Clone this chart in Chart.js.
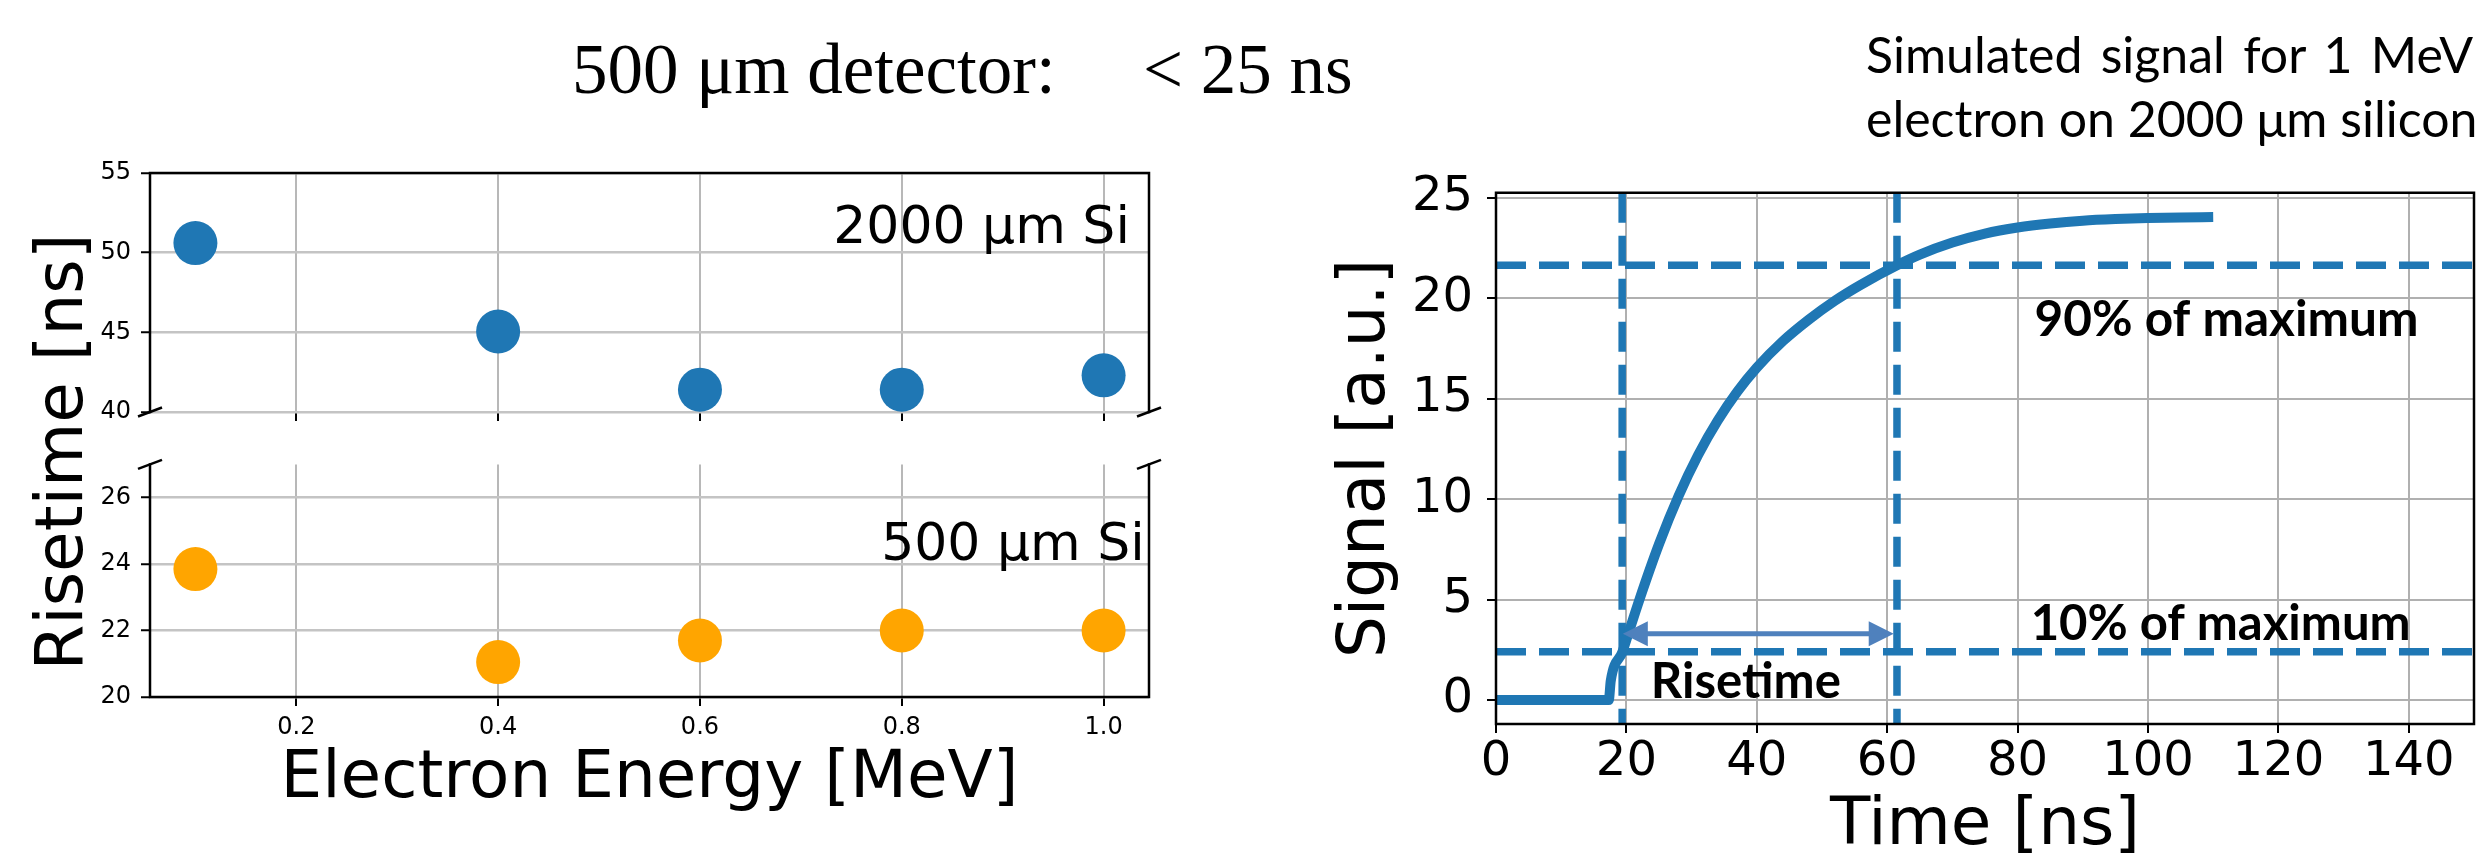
<!DOCTYPE html>
<html>
<head>
<meta charset="utf-8">
<script src="https://cdn.jsdelivr.net/npm/chart.js@4.4.1/dist/chart.umd.min.js"></script>
<style>
  html, body { margin: 0; padding: 0; background: #fff; }
  body { width: 2482px; height: 855px; position: relative; overflow: hidden; }
  canvas { position: absolute; }
  .txt { position: absolute; white-space: nowrap; color: #000; }
</style>
</head>
<body>
<div class="txt" style="left:572px; top:29px; font:71px/80px 'Liberation Serif';">500 μm detector:</div>
<div class="txt" style="left:1143px; top:29px; font:71px/80px 'Liberation Serif';">&lt; 25 ns</div>
<div class="txt" style="left:1866px; top:21.6px; width:607px; white-space:normal; font:50px/64px Lato; text-align:justify; text-align-last:justify;">Simulated signal for 1 MeV</div>
<div class="txt" style="left:1866px; top:85.6px; font:50px/64px Lato;">electron on 2000 μm silicon</div>
<div class="txt" style="left:-239.8px; top:419px; width:600px; height:66px; font:66px/66px 'DejaVu Sans'; text-align:center; transform:rotate(-90deg);">Risetime [ns]</div>

<canvas id="riseTop" width="1180" height="300" style="left:0; top:140px;"></canvas>
<canvas id="riseBottom" width="1180" height="415" style="left:0; top:440px;"></canvas>
<canvas id="signal" width="1182" height="705" style="left:1300px; top:150px;"></canvas>

<script>
// left plot: risetime vs electron energy
const energy = [0.1, 0.4, 0.6, 0.8, 1.0];
const rise2000 = [50.6, 45.05, 41.4, 41.4, 42.3];
const rise500 = [23.85, 21.05, 21.7, 22.0, 22.0];
const energyTicks = [0.2, 0.4, 0.6, 0.8, 1.0];
const riseTopTicks = [40, 45, 50, 55];
const riseBottomTicks = [20, 22, 24, 26];

// right plot: simulated signal
const time = [0, 10, 17.3, 17.6, 19.4, 20, 22, 25, 28, 31, 34, 37, 40, 44, 48, 52, 56, 61.5, 65, 70, 75, 80, 85, 90, 95, 100, 105, 110];
const signal = [0, 0, 0, 0.95, 2.4, 3.0, 5.0, 7.76, 10.16, 12.2, 13.91, 15.35, 16.55, 17.87, 18.95, 19.89, 20.69, 21.65, 22.18, 22.78, 23.23, 23.53, 23.73, 23.87, 23.95, 24.0, 24.03, 24.05];
const timeTicks = [0, 20, 40, 60, 80, 100, 120, 140];
const signalTicks = [0, 5, 10, 15, 20, 25];
const levels = [2.4, 21.65];      // 10% and 90% of maximum
const crossings = [19.35, 61.5];  // times where the levels are crossed
const riseArrow = [19.45, 61.0];  // arrow ends, at signal 3.3
const arrowLevel = 3.3;

const BLUE = '#1f77b4';
const ORANGE = '#ffa500';
const tickFont = { family: 'DejaVu Sans', size: 24 };

// spines + broken-axis marks
const framePlugin = {
  id: 'frame',
  afterDraw(chart, args, opts) {
    const { ctx, chartArea: a } = chart;
    const sides = opts.sides || 'tlrb';
    ctx.save();
    ctx.strokeStyle = '#000';
    ctx.lineWidth = opts.width || 2.5;
    ctx.lineCap = 'square';
    ctx.beginPath();
    if (sides.includes('t')) { ctx.moveTo(a.left, a.top); ctx.lineTo(a.right, a.top); }
    if (sides.includes('b')) { ctx.moveTo(a.left, a.bottom); ctx.lineTo(a.right, a.bottom); }
    if (sides.includes('l')) { ctx.moveTo(a.left, a.top); ctx.lineTo(a.left, a.bottom); }
    if (sides.includes('r')) { ctx.moveTo(a.right, a.top); ctx.lineTo(a.right, a.bottom); }
    ctx.stroke();
    ctx.lineCap = 'butt';
    (opts.breaks || []).forEach(function (b) {
      const x = b[1] === 'l' ? a.left : a.right;
      const y = b[0] === 't' ? a.top : a.bottom;
      ctx.beginPath();
      ctx.moveTo(x - 12, y + 4.5);
      ctx.lineTo(x + 12, y - 4.5);
      ctx.stroke();
    });
    ctx.restore();
  }
};

// text placed in data coordinates
const notesPlugin = {
  id: 'notes',
  afterDatasetsDraw(chart, args, opts) {
    const { ctx, scales } = chart;
    ctx.save();
    ctx.fillStyle = '#000';
    ctx.textBaseline = 'alphabetic';
    (opts.items || []).forEach(function (n) {
      ctx.font = n.font;
      ctx.textAlign = n.align || 'left';
      ctx.fillText(n.text, scales.x.getPixelForValue(n.x), scales.y.getPixelForValue(n.y), n.maxWidth);
    });
    ctx.restore();
  }
};

// double-headed arrow for the risetime
const arrowPlugin = {
  id: 'riseArrow',
  afterDatasetsDraw(chart, args, opts) {
    if (!opts.from) return;
    const { ctx, scales } = chart;
    const x1 = scales.x.getPixelForValue(opts.from[0]);
    const x2 = scales.x.getPixelForValue(opts.from[1]);
    const y = scales.y.getPixelForValue(opts.level);
    const hl = 25, hw = 12.5;
    ctx.save();
    ctx.fillStyle = opts.color;
    ctx.strokeStyle = opts.color;
    ctx.lineWidth = 5;
    ctx.beginPath();
    ctx.moveTo(x1 + hl - 2, y);
    ctx.lineTo(x2 - hl + 2, y);
    ctx.stroke();
    ctx.beginPath();
    ctx.moveTo(x1, y); ctx.lineTo(x1 + hl, y - hw); ctx.lineTo(x1 + hl, y + hw); ctx.closePath();
    ctx.moveTo(x2, y); ctx.lineTo(x2 - hl, y - hw); ctx.lineTo(x2 - hl, y + hw); ctx.closePath();
    ctx.fill();
    ctx.restore();
  }
};

function setTicks(list) {
  return function (scale) { scale.ticks = list.map(function (v) { return { value: v }; }); };
}

const baseOptions = {
  responsive: false,
  animation: false,
  devicePixelRatio: 1,
  events: []
};

// top panel: 2000 um
new Chart(document.getElementById('riseTop'), {
  type: 'scatter',
  data: {
    datasets: [{
      data: energy.map(function (e, i) { return { x: e, y: rise2000[i] }; }),
      backgroundColor: BLUE, borderWidth: 0, pointRadius: 22, pointHoverRadius: 22
    }]
  },
  options: Object.assign({}, baseOptions, {
    layout: { padding: { top: 33, right: 31, left: 0, bottom: 0 } },
    plugins: {
      legend: { display: false },
      tooltip: { enabled: false },
      frame: { sides: 'tlr', breaks: ['bl', 'br'] },
      notes: { items: [{ text: '2000 μm Si', x: 1.026, y: 50.6, font: '52px "DejaVu Sans"', align: 'right' }] }
    },
    scales: {
      x: {
        type: 'linear', min: 0.055, max: 1.045,
        afterBuildTicks: setTicks(energyTicks),
        ticks: { display: false },
        grid: { color: '#b8b8b8', lineWidth: 2, tickColor: '#000', tickWidth: 2, tickLength: 9 },
        border: { display: false },
        afterFit: function (s) { s.height = 28; }
      },
      y: {
        min: 40, max: 55,
        afterBuildTicks: setTicks(riseTopTicks),
        ticks: { font: tickFont, color: '#000', padding: 10 },
        grid: { color: '#c4c4c4', lineWidth: 2.5, tickColor: '#000', tickWidth: 2, tickLength: 9 },
        border: { display: false },
        afterFit: function (s) { s.width = 150; }
      }
    }
  }),
  plugins: [framePlugin, notesPlugin]
});

// bottom panel: 500 um
new Chart(document.getElementById('riseBottom'), {
  type: 'scatter',
  data: {
    datasets: [{
      data: energy.map(function (e, i) { return { x: e, y: rise500[i] }; }),
      backgroundColor: ORANGE, borderWidth: 0, pointRadius: 22, pointHoverRadius: 22
    }]
  },
  options: Object.assign({}, baseOptions, {
    layout: { padding: { top: 20, right: 31, left: 0, bottom: 0 } },
    plugins: {
      legend: { display: false },
      tooltip: { enabled: false },
      frame: { sides: 'blr', breaks: ['tl', 'tr'] },
      notes: { items: [{ text: '500 μm Si', x: 1.0407, y: 24.12, font: '52px "DejaVu Sans"', align: 'right' }] }
    },
    scales: {
      x: {
        type: 'linear', min: 0.055, max: 1.045,
        afterBuildTicks: setTicks(energyTicks),
        ticks: {
          font: tickFont, color: '#000', padding: 7, autoSkip: false, maxRotation: 0,
          callback: function (v) { return v.toFixed(1); }
        },
        grid: { color: '#b8b8b8', lineWidth: 2, tickColor: '#000', tickWidth: 2, tickLength: 9 },
        border: { display: false },
        title: {
          display: true, text: 'Electron Energy [MeV]', color: '#000',
          font: { family: 'DejaVu Sans', size: 66, lineHeight: 1 },
          padding: { top: 0, bottom: 42 }
        },
        afterFit: function (s) { s.height = 158; }
      },
      y: {
        min: 20, max: 27,
        afterBuildTicks: setTicks(riseBottomTicks),
        ticks: { font: tickFont, color: '#000', padding: 10 },
        grid: { color: '#c4c4c4', lineWidth: 2.5, tickColor: '#000', tickWidth: 2, tickLength: 9 },
        border: { display: false },
        afterFit: function (s) { s.width = 150; }
      }
    }
  }),
  plugins: [framePlugin, notesPlugin]
});

// right: simulated signal
const signalMin = -1.2, signalMax = 25.26;
const dashed = { showLine: true, borderColor: BLUE, borderWidth: 7.5, borderDash: [30, 13], pointRadius: 0, pointHoverRadius: 0 };

new Chart(document.getElementById('signal'), {
  type: 'scatter',
  data: {
    datasets: [
      {
        data: time.map(function (t, i) { return { x: t, y: signal[i] }; }),
        showLine: true, borderColor: BLUE, borderWidth: 10, pointRadius: 0, pointHoverRadius: 0,
        cubicInterpolationMode: 'monotone', borderCapStyle: 'butt'
      },
      Object.assign({ data: [{ x: 0, y: levels[1] }, { x: 150, y: levels[1] }] }, dashed),
      Object.assign({ data: [{ x: 0, y: levels[0] }, { x: 150, y: levels[0] }] }, dashed),
      Object.assign({ data: [{ x: crossings[0], y: signalMax }, { x: crossings[0], y: signalMin }] }, dashed),
      Object.assign({ data: [{ x: crossings[1], y: signalMax }, { x: crossings[1], y: signalMin }] }, dashed)
    ]
  },
  options: Object.assign({}, baseOptions, {
    layout: { padding: { top: 31, right: 8, left: 0, bottom: 0 } },
    plugins: {
      legend: { display: false },
      tooltip: { enabled: false },
      frame: { sides: 'tlrb' },
      riseArrow: { from: riseArrow, level: arrowLevel, color: '#4f81bd' },
      notes: {
        items: [
          { text: '90% of maximum', x: 82.6, y: 18.13, font: 'bold 50px Lato', maxWidth: 384 },
          { text: '10% of maximum', x: 82.0, y: 2.99, font: 'bold 50px Lato', maxWidth: 380 },
          { text: 'Risetime', x: 23.75, y: 0.11, font: 'bold 50px Lato', maxWidth: 190 }
        ]
      }
    },
    scales: {
      x: {
        type: 'linear', min: 0, max: 150,
        afterBuildTicks: setTicks(timeTicks),
        ticks: { font: { family: 'DejaVu Sans', size: 48 }, color: '#000', padding: 1, autoSkip: false, maxRotation: 0 },
        grid: { color: '#b0b0b0', lineWidth: 2, tickColor: '#000', tickWidth: 2, tickLength: 9 },
        border: { display: false },
        title: {
          display: true, text: 'Time [ns]', color: '#000',
          font: { family: 'DejaVu Sans', size: 66, lineHeight: 0.8 },
          padding: { top: 0, bottom: 2 }
        },
        afterFit: function (s) { s.height = 131; }
      },
      y: {
        min: signalMin, max: signalMax,
        afterBuildTicks: setTicks(signalTicks),
        ticks: { font: { family: 'DejaVu Sans', size: 48 }, color: '#000', padding: 14 },
        grid: { color: '#b0b0b0', lineWidth: 2, tickColor: '#000', tickWidth: 2, tickLength: 9 },
        border: { display: false },
        title: {
          display: true, text: 'Signal [a.u.]', color: '#000',
          font: { family: 'DejaVu Sans', size: 66, lineHeight: 1 },
          padding: { top: 34, bottom: 0 }
        },
        afterFit: function (s) { s.width = 196; }
      }
    }
  }),
  plugins: [framePlugin, notesPlugin, arrowPlugin]
});
</script>
</body>
</html>
